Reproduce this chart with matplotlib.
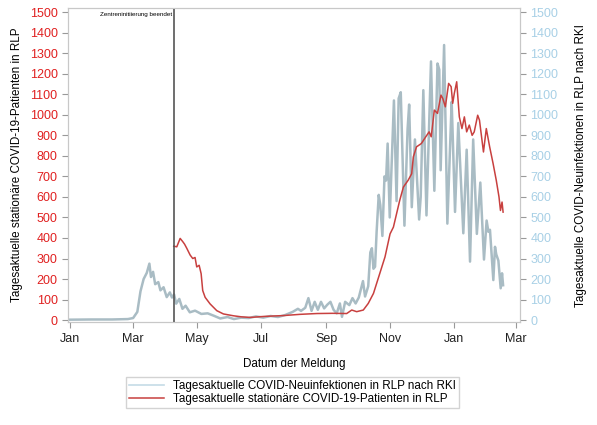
import numpy as np
import pandas as pd
import matplotlib
matplotlib.use("Agg")
import matplotlib.pyplot as plt
import matplotlib.dates as mdates

plt.rcParams['font.family'] = ['Liberation Sans', 'DejaVu Sans']

# days since 2020-01-01
inf_days = [0, 20, 40, 55, 60, 64, 67, 70, 73, 75.5, 77, 79, 81, 84, 86, 89, 92, 95, 97, 99,
            101, 104, 107, 110, 114, 119, 125, 131, 137, 143, 150, 156, 163, 170, 177, 184,
            191, 198, 205, 212, 217, 220, 224, 227, 230, 233, 236, 239, 242, 245, 248, 251,
            254, 257, 259, 262, 266, 269, 272, 275, 279, 281, 284, 286, 287.5, 289, 290.5,
            292, 294, 295.5, 297.5, 299.5, 301, 302.5, 304.5, 308.5, 311, 313, 315, 318.5,
            321.5, 323, 325.5, 328.5, 332.5, 334, 336.5, 339.5, 343.8, 347, 350, 351.7, 353,
            356.3, 359.4, 363.5, 364.5, 366.7, 369.8, 374.6, 377.8, 381, 384, 387.5, 390.8,
            394.3, 396.8, 398.5, 400, 403.2, 404.8, 406, 408, 410.2, 411.5, 412.5]
infections = [2, 3, 3, 5, 10, 40, 140, 200, 230, 275, 210, 235, 175, 185, 145, 160, 112, 135, 110, 125,
              80, 103, 55, 70, 38, 46, 30, 33, 21, 8, 15, 5, 12, 10, 18, 12,
              20, 15, 25, 40, 55, 45, 60, 107, 45, 89, 50, 89, 57, 75, 89, 50,
              33, 81, 16, 89, 73, 107, 81, 110, 190, 115, 165, 330, 350, 250, 260,
              430, 610, 560, 410, 700, 680, 860, 500, 1070, 580, 1080, 1110, 460,
              930, 1050, 550, 880, 490, 600, 1120, 510, 1260, 630, 1250, 1220, 730,
              1340, 470, 1063, 900, 527, 960, 423, 830, 285, 880, 420, 670,
              295, 485, 430, 440, 195, 357, 320, 290, 155, 228, 170]

hosp_days = [98.7, 101.6, 104.8, 107.3, 109, 111.1, 114.3, 116.8, 119, 120.6, 122.9, 124.8,
             126.3, 128.6, 133.3, 139.7, 146, 155.6, 163, 171.4, 185, 203, 219, 235, 250,
             263.5, 268.3, 273, 279.3, 284, 289, 295, 300, 304.8, 308, 311, 314, 317.5, 322,
             325.4, 327, 330, 334.6, 337.8, 342, 344, 347, 350, 353.3, 355, 357.5, 360.6,
             363, 364.5, 366, 368.3, 370.8, 373.3, 375.6, 377.8, 380.3, 383, 385, 388.3, 390,
             393.8, 396.5, 399.7, 403, 406, 408.6, 410, 411.5, 412.5]
hospitalised = [360, 357, 398, 382, 370, 350, 317, 300, 305, 259, 267, 226,
                144, 111, 79, 46, 30, 21, 16, 13, 18, 22, 28, 32, 33,
                32, 49, 41, 49, 81, 130, 227, 308, 420, 453, 518, 583, 648, 681,
                713, 795, 844, 860, 885, 917, 893, 1023, 1007, 1096, 1080, 1039, 1153,
                1137, 1056, 1104, 1161, 990, 933, 990, 917, 950, 900, 917, 998, 974,
                819, 933, 844, 762, 681, 600, 534, 575, 526]

marker_day = 98.5
marker_text = "Zentreninitiierung beendet"

start = pd.Timestamp("2020-01-01")
inf_dates = start + pd.to_timedelta(inf_days, unit="D")
hosp_dates = start + pd.to_timedelta(hosp_days, unit="D")
marker_date = start + pd.to_timedelta(marker_day, unit="D")

red = "#c8403f"
blue = "#a9bcc4"
frame = "#c8c8c8"

fig = plt.figure(figsize=(5.97, 4.25), dpi=100)
ax = fig.add_axes([0.114, 0.242, 0.757, 0.739])
ax2 = ax.twinx()

l1, = ax2.plot(inf_dates, infections, color=blue, lw=1.8)
l2, = ax.plot(hosp_dates, hospitalised, color=red, lw=1.1)
ax.set_zorder(ax2.get_zorder() + 1)
ax.patch.set_visible(False)

ax.axvline(marker_date, color="#555555", lw=1.2)
ax.text(marker_date - pd.Timedelta(days=1), 1490, marker_text, fontsize=4.5,
        ha="right", va="center")

for a in (ax, ax2):
    a.set_ylim(-10, 1520)
    a.set_yticks(np.arange(0, 1501, 100))
    a.set_xlim(start - pd.Timedelta(days=2), start + pd.Timedelta(days=428.6))
    for s in a.spines.values():
        s.set_color(frame)
    a.tick_params(colors="#999999", length=4, labelsize=9)

ax.tick_params(axis="y", labelcolor="#e02020")
ax2.tick_params(axis="y", labelcolor="#a8d0e6")
ax.tick_params(axis="x", labelcolor="#222222")

ax.xaxis.set_major_locator(mdates.MonthLocator(bymonth=[1, 3, 5, 7, 9, 11]))
ax.xaxis.set_major_formatter(mdates.DateFormatter("%b"))

ax.set_xlabel("Datum der Meldung", fontsize=8.4, labelpad=10)
ax.set_ylabel("Tagesaktuelle stationäre COVID-19-Patienten in RLP", fontsize=8.4, labelpad=5)
ax2.set_ylabel("Tagesaktuelle COVID-Neuinfektionen in RLP nach RKI", fontsize=8.4, labelpad=12)

leg_inf = plt.Line2D([], [], color="#c5dbe6", lw=1.2)
fig.legend([leg_inf, l2],
           ["Tagesaktuelle COVID-Neuinfektionen in RLP nach RKI",
            "Tagesaktuelle stationäre COVID-19-Patienten in RLP"],
           loc="center", bbox_to_anchor=(0.49, 0.0765), fontsize=8.4,
           frameon=True, fancybox=False, edgecolor=frame, handlelength=3,
           handletextpad=0.8, borderpad=0.25, labelspacing=0.05)

fig.savefig("out.png", dpi=100)
